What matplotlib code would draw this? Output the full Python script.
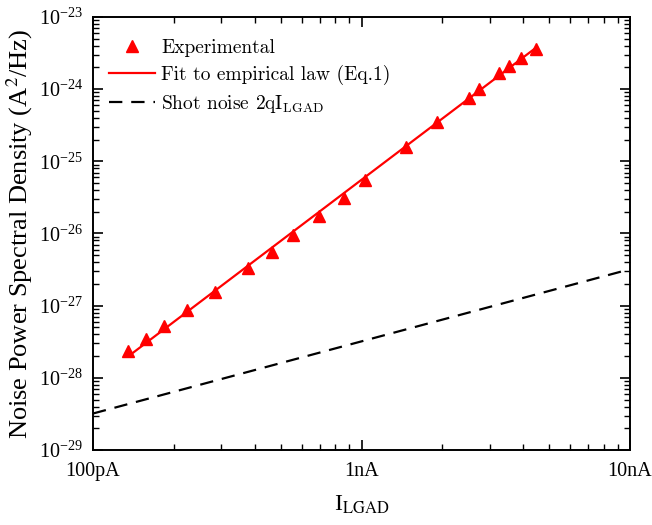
import matplotlib
matplotlib.use('Agg')
import matplotlib.pyplot as plt
from matplotlib.font_manager import FontProperties
from matplotlib.ticker import LogLocator, FixedLocator, FixedFormatter, NullFormatter

# axes text in a Times-like face, legend in Computer Modern
plt.rcParams['font.family'] = 'serif'
plt.rcParams['font.serif'] = ['Liberation Serif', 'DejaVu Serif']
plt.rcParams['mathtext.fontset'] = 'stix'

# measured data (current in A, PSD in A^2/Hz)
exp_current = [1.354e-10, 1.572e-10, 1.844e-10, 2.245e-10, 2.847e-10, 3.79e-10,
               4.63e-10, 5.57e-10, 6.96e-10, 8.61e-10, 1.03e-9, 1.464e-9,
               1.91e-9, 2.515e-9, 2.746e-9, 3.26e-9, 3.55e-9, 3.93e-9, 4.47e-9]
exp_psd = [2.36e-28, 3.45e-28, 5.28e-28, 8.71e-28, 1.56e-27, 3.30e-27,
           5.60e-27, 9.53e-27, 1.75e-26, 3.08e-26, 5.51e-26, 1.60e-25,
           3.51e-25, 7.62e-25, 1.015e-24, 1.66e-24, 2.10e-24, 2.73e-24, 3.57e-24]

# fitted power law (straight line in log-log)
fit_current = [1.374e-10, 4.5e-9]
fit_psd = [2.07e-28, 3.84e-24]

# shot noise 2qI
shot_current = [1e-10, 1e-8]
shot_psd = [3.2e-29, 3.2e-27]

xticks = [1e-10, 1e-9, 1e-8]
xticklabels = ['100pA', '1nA', '10nA']

fig = plt.figure(figsize=(6.52, 5.25), dpi=100)
ax = fig.add_axes([0.1426, 0.1429, 0.8237, 0.8247])

ax.plot(exp_current, exp_psd, linestyle='none', marker='^', color='#ff0000',
        markersize=9, label='Experimental', zorder=3)
ax.plot(fit_current, fit_psd, color='#ff0000', lw=1.6,
        label='Fit to empirical law (Eq.1)', zorder=2)
ax.plot(shot_current, shot_psd, color='black', lw=1.6, dashes=(6, 4),
        label=r'Shot noise 2qI$_{\mathrm{LGAD}}$')

ax.set_xscale('log')
ax.set_yscale('log')
ax.set_xlim(1e-10, 1e-8)
ax.set_ylim(1e-29, 1e-23)

ax.xaxis.set_major_locator(FixedLocator(xticks))
ax.xaxis.set_major_formatter(FixedFormatter(xticklabels))
ax.xaxis.set_minor_locator(LogLocator(base=10, subs=range(2, 10)))
ax.xaxis.set_minor_formatter(NullFormatter())
ax.yaxis.set_major_locator(LogLocator(base=10, numticks=10))
ax.yaxis.set_minor_locator(LogLocator(base=10, subs=range(2, 10), numticks=20))
ax.yaxis.set_minor_formatter(NullFormatter())

ax.tick_params(which='both', direction='in', top=True, right=True, labelsize=14.5)
ax.tick_params(which='major', length=7.5, width=1.2)
ax.tick_params(which='minor', length=4, width=1.0)
ax.tick_params(axis='x', pad=9)
ax.tick_params(axis='y', pad=7)
for s in ax.spines.values():
    s.set_linewidth(1.4)

ax.set_xlabel(r'I$_{\mathrm{LGAD}}$', fontsize=17, labelpad=9)
ax.set_ylabel(r'Noise Power Spectral Density (A$^2$/Hz)', fontsize=19, labelpad=3)

cm_font = FontProperties(family='cmr10', size=14, math_fontfamily='cm')
ax.legend(loc='upper left', frameon=False, prop=cm_font, handlelength=2.4,
          handletextpad=0.3, labelspacing=0.4, borderaxespad=0.4,
          bbox_to_anchor=(0.0, 0.985))

fig.savefig('out.png', dpi=100)
